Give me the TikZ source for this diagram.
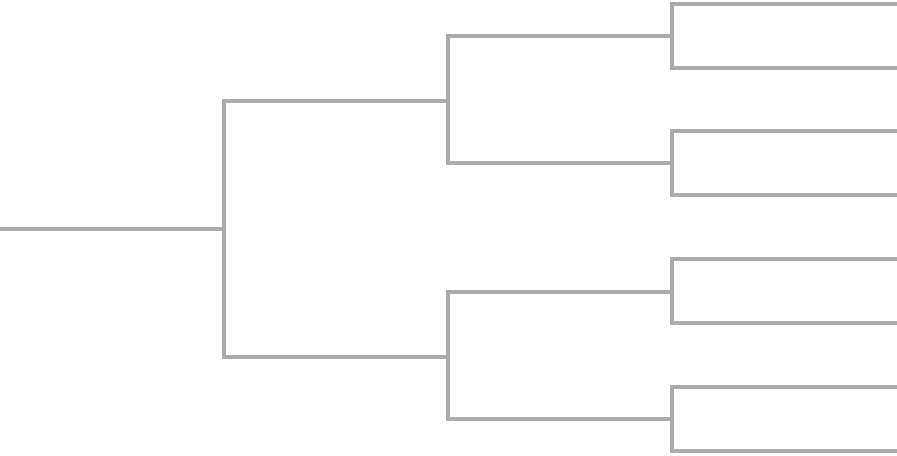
\documentclass[tikz,border=0pt]{standalone}
\begin{document}
\begin{tikzpicture}[x=0.75pt,y=-0.75pt]
    \tikzset { branch/.style = { draw=black!33, line width=3pt } }

    \useasboundingbox (0,0) rectangle (897,455);

    % joints of the bracket
    \coordinate (root) at (0,229);
    \coordinate (j0) at (224,229);
    \coordinate (j1) at (448,101);
    \coordinate (j2) at (448,357);
    \coordinate (j3) at (672,36);
    \coordinate (j4) at (672,163);
    \coordinate (j5) at (672,292);
    \coordinate (j6) at (672,419);

    % leaves
    \foreach \y [count=\i] in {4,68,131,195,259,323,387,451}
      \coordinate (l\i) at (897,\y);

    \draw[branch] (root) -- (j0);
    \draw[branch] (j1) -| (j0) |- (j2);
    \draw[branch] (j3) -| (j1) |- (j4);
    \draw[branch] (j5) -| (j2) |- (j6);
    \draw[branch] (l1) -| (j3) |- (l2);
    \draw[branch] (l3) -| (j4) |- (l4);
    \draw[branch] (l5) -| (j5) |- (l6);
    \draw[branch] (l7) -| (j6) |- (l8);
\end{tikzpicture}
\end{document}
